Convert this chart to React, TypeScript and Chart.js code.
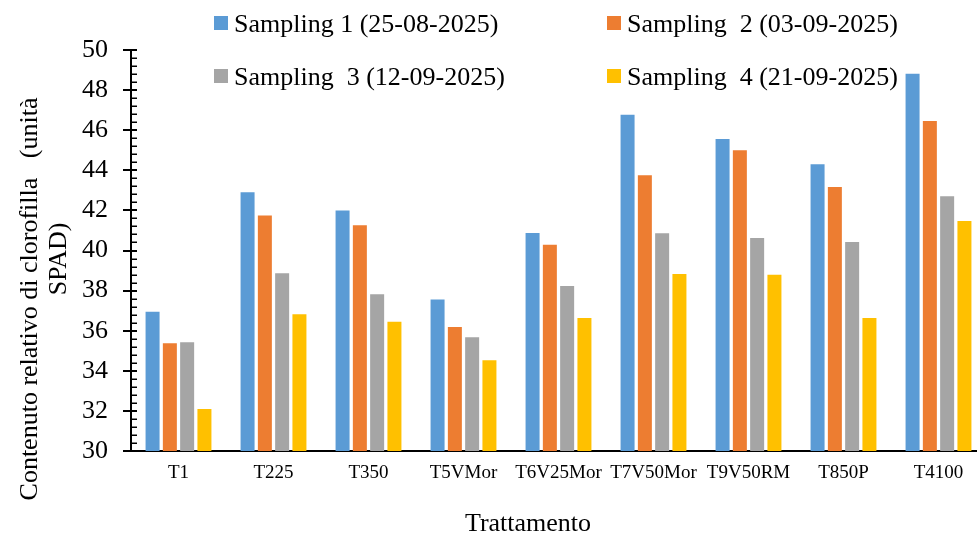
import React, { useEffect, useRef } from "react";
import { Chart, registerables } from "chart.js";

Chart.register(...registerables);

const categories = ["T1", "T225", "T350", "T5VMor", "T6V25Mor", "T7V50Mor", "T9V50RM", "T850P", "T4100"];
const sampling1 = [36.95, 42.9, 42.0, 37.55, 40.87, 46.77, 45.56, 44.3, 48.82];
const sampling2 = [35.37, 41.74, 41.26, 36.18, 40.29, 43.75, 45.0, 43.17, 46.46];
const sampling3 = [35.42, 38.86, 37.82, 35.67, 38.23, 40.86, 40.62, 40.42, 42.7];
const sampling4 = [32.09, 36.82, 36.45, 34.52, 36.63, 38.83, 38.79, 36.63, 41.47];
const seriesLabels = [
  "Sampling 1 (25-08-2025)",
  "Sampling  2 (03-09-2025)",
  "Sampling  3 (12-09-2025)",
  "Sampling  4 (21-09-2025)",
];
const seriesColors = ["#5B9BD5", "#ED7D31", "#A5A5A5", "#FFC000"];
const yMin = 30;
const yMax = 50;
const yStep = 2;
const yMinorStep = 0.4;
const xTitle = "Trattamento";
const yTitleLines = ["Contenuto relativo di clorofilla   (unità", "SPAD)"];

const FONT = "'Liberation Serif', 'Times New Roman', serif";

const decorPlugin = {
  id: "decor",
  afterDraw(chart: any) {
    const ctx = chart.ctx;
    const area = chart.chartArea;
    const ys = chart.scales.y;
    ctx.save();
    ctx.strokeStyle = "#000";
    // minor ticks (inside)
    ctx.lineWidth = 1.5;
    const nMinor = Math.round((yMax - yMin) / yMinorStep);
    for (let i = 0; i <= nMinor; i++) {
      const v = yMin + i * yMinorStep;
      const py = Math.round(ys.getPixelForValue(v)) + 0.25;
      ctx.beginPath();
      ctx.moveTo(area.left, py);
      ctx.lineTo(area.left + 6, py);
      ctx.stroke();
    }
    // major ticks (cross)
    ctx.lineWidth = 2;
    ys.ticks.forEach((t: any) => {
      const py = Math.round(ys.getPixelForValue(t.value));
      ctx.beginPath();
      ctx.moveTo(area.left - 8, py);
      ctx.lineTo(area.left + 6, py);
      ctx.stroke();
    });

    // legend
    ctx.font = `26px ${FONT}`;
    ctx.textAlign = "left";
    ctx.textBaseline = "alphabetic";
    const colX = [214, 607];
    const rowBase = [32, 85];
    chart.data.datasets.forEach((ds: any, i: number) => {
      const cx = colX[i % 2];
      const by = rowBase[Math.floor(i / 2)];
      ctx.fillStyle = ds.backgroundColor;
      ctx.fillRect(cx, by - 16, 14, 14);
      ctx.fillStyle = "#000";
      ctx.fillText(ds.label, cx + 20, by);
    });

    // x title
    ctx.textAlign = "center";
    ctx.fillText(xTitle, 528, 531);

    // y title (rotated, two lines)
    ctx.save();
    ctx.translate(37, 299);
    ctx.rotate(-Math.PI / 2);
    ctx.fillText(yTitleLines[0], 0, 0);
    ctx.restore();
    ctx.save();
    ctx.translate(66, 259);
    ctx.rotate(-Math.PI / 2);
    ctx.fillText(yTitleLines[1], 0, 0);
    ctx.restore();

    ctx.restore();
  },
};

export default function App() {
  const ref = useRef<HTMLCanvasElement | null>(null);
  useEffect(() => {
    if (!ref.current) return;
    const series = [sampling1, sampling2, sampling3, sampling4];
    const chart = new Chart(ref.current, {
      type: "bar",
      data: {
        labels: categories,
        datasets: series.map((d, i) => ({
          label: seriesLabels[i],
          data: d,
          backgroundColor: seriesColors[i],
          borderWidth: 0,
          categoryPercentage: 0.728,
          barPercentage: 0.81,
        })),
      },
      options: {
        responsive: false,
        animation: false,
        devicePixelRatio: 1,
        layout: { padding: { left: 0, top: 50, right: 14, bottom: 0 } },
        plugins: {
          legend: { display: false },
          tooltip: { enabled: false },
          title: { display: false },
        },
        scales: {
          x: {
            grid: { display: false, drawTicks: false },
            border: { display: true, color: "#000", width: 2 },
            ticks: {
              color: "#000",
              font: { family: FONT, size: 19 },
              padding: 11,
              maxRotation: 0,
              autoSkip: false,
            },
            afterFit(scale: any) {
              scale.height = 84;
            },
          },
          y: {
            min: yMin,
            max: yMax,
            grid: { display: false, drawTicks: false },
            border: { display: true, color: "#000", width: 2 },
            ticks: {
              stepSize: yStep,
              color: "#000",
              font: { family: FONT, size: 26 },
              padding: 23,
            },
            afterFit(scale: any) {
              scale.width = 131;
            },
          },
        },
      },
      plugins: [decorPlugin],
    } as any);
    return () => chart.destroy();
  }, []);

  return (
    <div
      style={{
        position: "fixed",
        left: 0,
        top: 0,
        width: 977,
        height: 535,
        overflow: "hidden",
        background: "#fff",
      }}
    >
      <canvas ref={ref} width={1000} height={535} style={{ width: 1000, height: 535, display: "block" }} />
    </div>
  );
}
